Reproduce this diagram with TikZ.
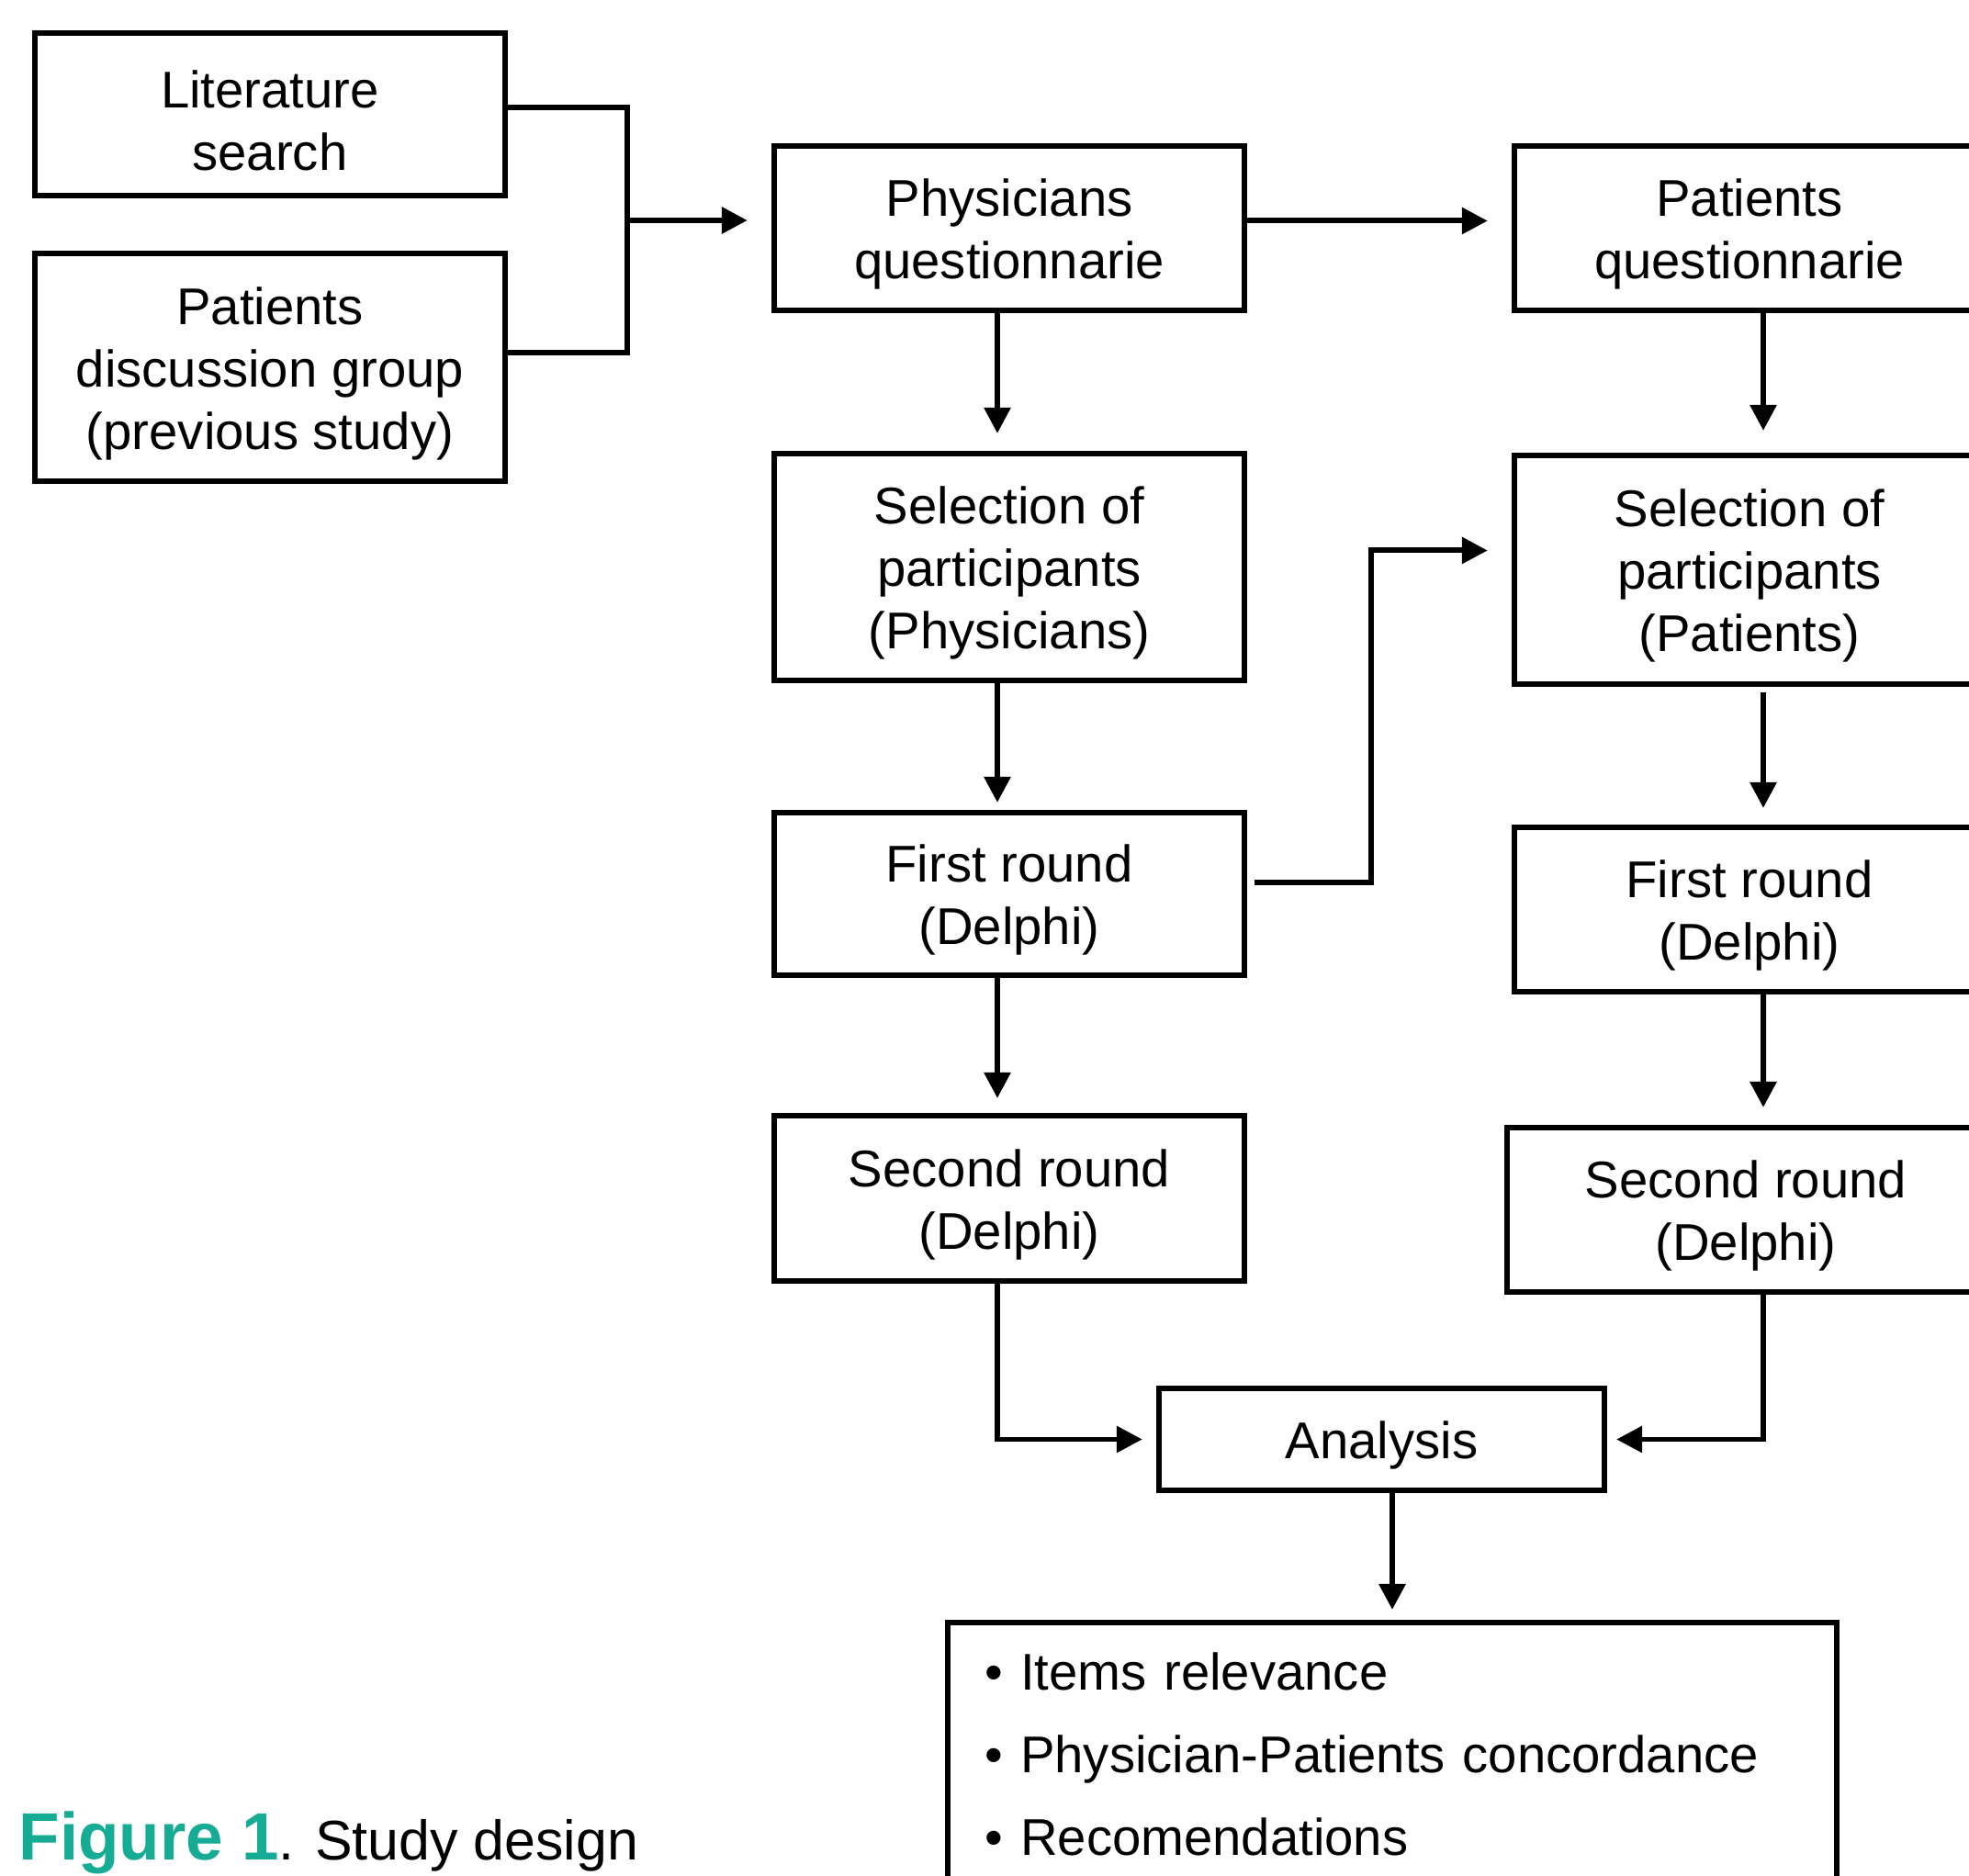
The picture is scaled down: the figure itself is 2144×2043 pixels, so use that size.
\documentclass[tikz,border=0pt]{standalone}
\usepackage{fontspec}
\setmainfont{Liberation Sans}
\usetikzlibrary{arrows.meta}
\definecolor{figteal}{RGB}{22,171,148}
\newcommand{\topgap}{\rule{0pt}{15.4pt}}

\begin{document}
\begin{tikzpicture}[
  x=0.01cm,
  y=-0.01cm,
  box/.style={draw=black, line width=1.7pt, minimum width=5.12cm, inner sep=2pt, align=center, font=\fontsize{16}{19.3}\selectfont},
  listbox/.style={draw=black, line width=1.7pt, inner xsep=0.41cm, inner ysep=0.33cm, align=left, font=\fontsize{16}{25.6}\selectfont},
  link/.style={line width=1.7pt},
  arrow/.style={line width=1.7pt, -{Triangle[length=0.28cm, width=0.28cm]}}
]
\useasboundingbox (0,0) rectangle (2144,2043);
\clip (0,0) rectangle (2144,2043);
\fill[white] (0,0) rectangle (2144,2043);

\node[box, minimum height=1.77cm] (lit) at (294,124.5) {\topgap Literature\\search};
\node[box, minimum height=2.48cm] (disc) at (294,400) {\topgap Patients\\discussion group\\(previous study)};

\node[box, minimum height=1.79cm] (physq) at (1099,248.5) {\topgap Physicians\\questionnarie};
\node[box, minimum height=2.47cm] (selphys) at (1099,617.5) {\topgap Selection of\\participants\\(Physicians)};
\node[box, minimum height=1.77cm] (firstphys) at (1099,973.5) {\topgap First round\\(Delphi)};
\node[box, minimum height=1.80cm] (secphys) at (1099,1305) {\topgap Second round\\(Delphi)};

\node[box, minimum height=1.79cm] (patq) at (1905,248.5) {\topgap Patients\\questionnarie};
\node[box, minimum height=2.49cm] (selpat) at (1905,620.5) {\topgap Selection of\\participants\\(Patients)};
\node[box, minimum height=1.79cm] (firstpat) at (1905,990.5) {\topgap First round\\(Delphi)};
\node[box, minimum height=1.79cm, minimum width=5.2cm] (secpat) at (1901,1317.5) {\topgap Second round\\(Delphi)};

\node[box, minimum height=1.11cm, minimum width=4.85cm] (analysis) at (1504.5,1567.5) {\topgap Analysis};
\node[listbox, anchor=north, text width=8.86cm] (results) at (1516,1764) {• Items relevance\\• Physician-Patients concordance\\• Recomendations};

% inputs
\coordinate (merge) at (683,240);
\draw[link] ([yshift=0.075cm]lit.east) -| (merge) |- ([yshift=0.16cm]disc.east);
\draw[arrow, shorten >=0.26cm] (merge) -- (merge -| physq.west);
\draw[arrow, shorten >=0.26cm] ([yshift=0.08cm]physq.east) -- ([yshift=0.08cm]patq.west);

% physicians
\draw[arrow, shorten >=0.19cm] ([xshift=-0.13cm]physq.south) -- ([xshift=-0.13cm]selphys.north);
\draw[arrow, shorten >=0.08cm] ([xshift=-0.13cm]selphys.south) -- ([xshift=-0.13cm]firstphys.north);
\draw[arrow, shorten >=0.16cm] ([xshift=-0.13cm]firstphys.south) -- ([xshift=-0.13cm]secphys.north);
\draw[arrow, shorten >=0.15cm] ([xshift=-0.13cm]secphys.south) |- (analysis.west);
\draw[arrow, shorten <=0.08cm, shorten >=0.26cm] ([yshift=0.125cm]firstphys.east) -- ++(135,0) |- ([yshift=0.21cm]selpat.west);

% patients
\draw[arrow, shorten >=0.24cm] ([xshift=0.15cm]patq.south) -- ([xshift=0.15cm]selpat.north);
\draw[arrow, shorten <=0.06cm, shorten >=0.18cm] ([xshift=0.15cm]selpat.south) -- ([xshift=0.15cm]firstpat.north);
\draw[arrow, shorten >=0.19cm] ([xshift=0.15cm]firstpat.south) -- ([xshift=0.19cm]secpat.north);
\draw[arrow, shorten >=0.10cm] ([xshift=0.19cm]secpat.south) |- (analysis.east);

\draw[arrow, shorten >=0.11cm] (analysis.south -| results.north) -- (results.north);

\node[anchor=base west, inner sep=0pt] (caption) at (20,2025) {\fontsize{20.7}{24}\selectfont\bfseries\color{figteal}Figure 1\fontsize{17.3}{20}\selectfont\mdseries\color{black}. Study design};
\end{tikzpicture}
\end{document}
